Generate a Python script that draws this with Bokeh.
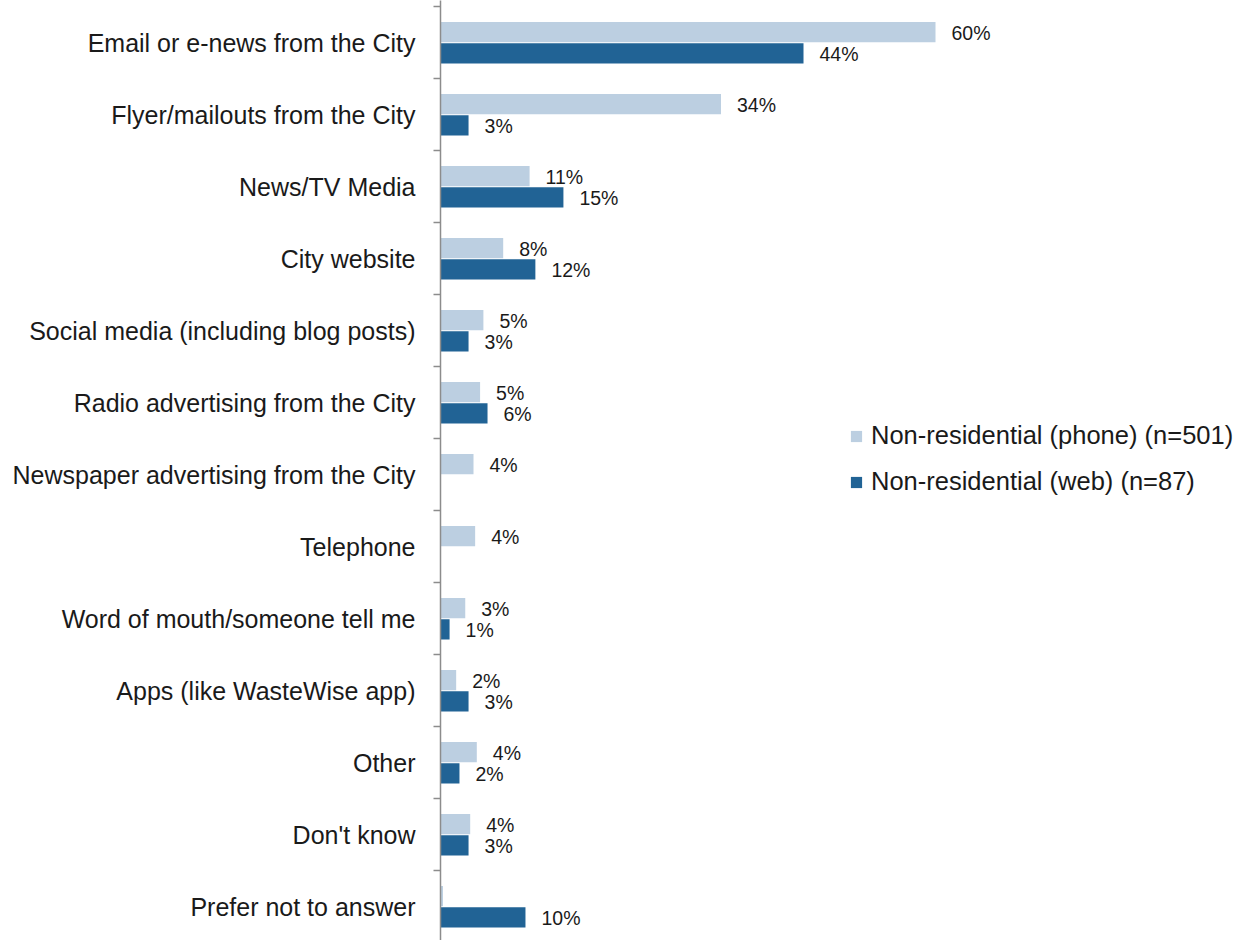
from bokeh.plotting import figure
from bokeh.models import ColumnDataSource, Range1d, FixedTicker, Legend, LegendItem
from bokeh.core.properties import value
from bokeh.embed import file_html
from bokeh.resources import INLINE

categories = [
    "Email or e-news from the City",
    "Flyer/mailouts from the City",
    "News/TV Media",
    "City website",
    "Social media (including blog posts)",
    "Radio advertising from the City",
    "Newspaper advertising from the City",
    "Telephone",
    "Word of mouth/someone tell me",
    "Apps (like WasteWise app)",
    "Other",
    "Don't know",
    "Prefer not to answer",
]
phone = [60, 34, 10.8, 7.6, 5.2, 4.8, 4.0, 4.2, 3.0, 1.9, 4.4, 3.6, 0.3]
web = [44, 3.4, 14.9, 11.5, 3.4, 5.7, 0, 0, 1.1, 3.4, 2.3, 3.4, 10.3]
phone_labels = ["60%", "34%", "11%", "8%", "5%", "5%", "4%", "4%", "3%", "2%", "4%", "4%", ""]
web_labels = ["44%", "3%", "15%", "12%", "3%", "6%", "", "", "1%", "3%", "2%", "3%", "10%"]
series_names = ["Non-residential (phone) (n=501)", "Non-residential (web) (n=87)"]

PHONE_COLOR = "#BCCFE1"
WEB_COLOR = "#216395"
AXIS_COLOR = "#8C8C8C"
TEXT_COLOR = "#1A1A1A"
FONT = "Liberation Sans"

n = len(categories)
centers = [n - i - 0.5 for i in range(n)]
bar_h = 0.28

src = ColumnDataSource(dict(
    phone=phone, web=web,
    y_phone=[c + 0.145 for c in centers],
    y_web=[c - 0.15 for c in centers],
    phone_label=phone_labels, web_label=web_labels,
))

W, H = 1238, 940
left_border = 440
px_per_unit = 8.25
frame_w = W - left_border
band_px = 72
# image y = 6 + 72*(13 - v); frame spans image y 0..H
y_top = n + 6 / band_px
y_bot = n - (H - 6) / band_px

p = figure(width=W, height=H, output_backend="svg", toolbar_location=None,
           x_range=Range1d(0, frame_w / px_per_unit),
           y_range=Range1d(y_bot, y_top),
           min_border_left=left_border, min_border_right=0,
           min_border_top=0, min_border_bottom=0,
           x_axis_location=None)
p.outline_line_color = None
p.grid.visible = False
p.background_fill_color = "white"
p.border_fill_color = "white"

r1 = p.hbar(y="y_phone", right="phone", left=0, height=bar_h, source=src,
            fill_color=PHONE_COLOR, line_color=None)
r2 = p.hbar(y="y_web", right="web", left=0, height=bar_h, source=src,
            fill_color=WEB_COLOR, line_color=None)

p.text(x="phone", y="y_phone", text="phone_label", source=src, x_offset=16, y_offset=1,
       text_baseline="middle", text_align="left", text_font=value(FONT),
       text_font_size="19.5px", text_color=TEXT_COLOR)
p.text(x="web", y="y_web", text="web_label", source=src, x_offset=16, y_offset=1,
       text_baseline="middle", text_align="left", text_font=value(FONT),
       text_font_size="19.5px", text_color=TEXT_COLOR)

ax = p.yaxis[0]
ax.ticker = FixedTicker(ticks=centers, minor_ticks=list(range(n + 1)))
ax.major_label_overrides = {c: categories[i] for i, c in enumerate(centers)}
ax.major_tick_line_color = None
ax.major_tick_out = 0
ax.major_tick_in = 0
ax.minor_tick_out = 7
ax.minor_tick_in = 0
ax.minor_tick_line_color = AXIS_COLOR
ax.minor_tick_line_width = 1.5
ax.axis_line_color = AXIS_COLOR
ax.axis_line_width = 1.5
ax.major_label_standoff = 18
ax.major_label_text_font = FONT
ax.major_label_text_font_size = "25px"
ax.major_label_text_color = TEXT_COLOR

legend = Legend(items=[LegendItem(label=series_names[0], renderers=[r1]),
                       LegendItem(label=series_names[1], renderers=[r2])],
                location=(409, 444))
legend.border_line_color = None
legend.background_fill_alpha = 0
legend.padding = 0
legend.margin = 0
legend.spacing = 17
legend.glyph_width = 14
legend.glyph_height = 14
legend.label_height = 28
legend.label_standoff = 8
legend.label_text_font = FONT
legend.label_text_font_size = "25.5px"
legend.label_text_color = TEXT_COLOR
p.add_layout(legend, "center")

open("out.html", "w").write(file_html(p, INLINE))
